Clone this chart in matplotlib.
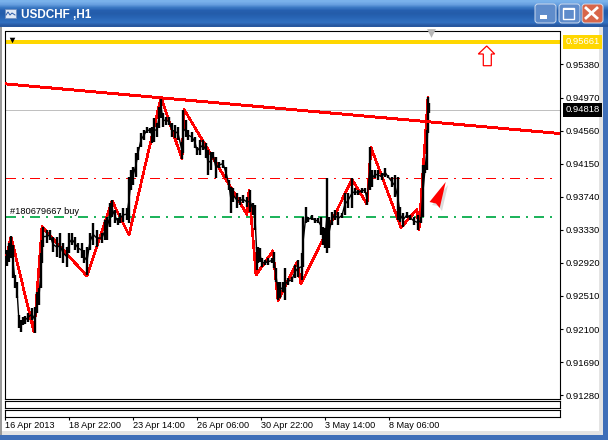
import numpy as np
import matplotlib
matplotlib.use('Agg')
import matplotlib.pyplot as plt
from matplotlib.patches import Polygon, Rectangle, FancyBboxPatch

W, H = 608, 440

# --- tick labels ---
time_labels = ['16 Apr 2013', '18 Apr 22:00', '23 Apr 14:00', '26 Apr 06:00',
               '30 Apr 22:00', '3 May 14:00', '8 May 06:00']
time_ticks = [0, 64, 128, 192, 256, 320, 384]
price_ticks = [0.95380, 0.94970, 0.94560, 0.94150, 0.93740, 0.93330,
               0.92920, 0.92510, 0.92100, 0.91690, 0.91280]

# --- price bars (bar index, high, low) ---
bars = [0, 2, 4, 6, 8, 10, 12, 14, 16, 18, 20, 23, 27, 30, 32, 34, 36, 37, 38, 42, 45, 48, 52,
        55, 58, 62, 64, 67, 70, 73, 77, 79, 82, 85, 88, 92, 97, 100, 102, 105, 107, 110, 113, 115,
        118, 122, 124, 126, 128, 131, 133, 136, 139, 142, 145, 147, 149, 152, 154, 156, 158, 161, 164,
        167, 170, 173, 177, 178, 181, 183, 187, 190, 192, 195, 198, 201, 203, 206, 208, 211, 214,
        218, 221, 224, 226, 228, 232, 235, 238, 242, 245, 248, 250, 252, 253, 255, 257, 260, 263,
        267, 269, 271, 273, 275, 278, 280, 283, 287, 290, 293, 297, 298, 301, 303, 307, 310, 313,
        316, 318, 320, 322, 324, 327, 330, 333, 337, 340, 343, 347, 350, 353, 357, 360, 362, 365,
        367, 370, 373, 377, 380, 383, 387, 390, 393, 395, 398, 402, 405, 409, 413, 416, 418, 420,
        422, 423, 424]
highs = [.9301, .9308, .9317, .9325, .9314, .9277, .9268, .9227, .9221, .9225, .9226, .9230, .9236,
         .9237, .9256, .9261, .9304, .9320, .9337, .9333, .9333, .9324, .9324, .9329, .9317, .9312,
         .9329, .9329, .9324, .9317, .9317, .9308, .9312, .9329, .9341, .9333, .9329, .9345, .9349,
         .9366, .9370, .9358, .9348, .9354, .9360, .9360, .9399, .9407, .9411, .9428, .9436, .9453,
         .9457, .9461, .9459, .9461, .9472, .9465, .9485, .9498, .9478, .9473, .9473, .9465, .9463,
         .9461, .9442, .9482, .9469, .9457, .9454, .9448, .9436, .9444, .9444, .9441, .9432, .9430,
         .9430, .9423, .9417, .9420, .9411, .9395, .9386, .9385, .9379, .9374, .9376, .9374, .9382,
         .9366, .9364, .9312, .9312, .9310, .9298, .9296, .9298, .9298, .9306, .9286, .9268, .9268,
         .9268, .9286, .9273, .9275, .9289, .9296, .9304, .9349, .9361, .9349, .9351, .9348, .9348,
         .9349, .9337, .9335, .9397, .9349, .9355, .9358, .9355, .9354, .9379, .9379, .9397, .9385,
         .9382, .9385, .9385, .9379, .9436, .9407, .9407, .9407, .9403, .9410, .9401, .9399, .9401,
         .9399, .9361, .9354, .9355, .9351, .9349, .9351, .9349, .9413, .9413, .9457, .9498, .9490]
lows = [.9288, .9288, .9293, .9298, .9273, .9261, .9249, .9211, .9206, .9215, .9216, .9219, .9221,
        .9205, .9230, .9240, .9261, .9292, .9312, .9317, .9320, .9306, .9299, .9298, .9292, .9287,
        .9304, .9314, .9308, .9304, .9298, .9292, .9277, .9308, .9314, .9312, .9317, .9320, .9320,
        .9337, .9349, .9341, .9339, .9341, .9343, .9345, .9341, .9382, .9389, .9399, .9420, .9436,
        .9444, .9453, .9453, .9441, .9442, .9448, .9459, .9472, .9461, .9463, .9463, .9448, .9447,
        .9444, .9421, .9428, .9448, .9444, .9442, .9435, .9426, .9426, .9432, .9422, .9401, .9407,
        .9422, .9397, .9410, .9410, .9397, .9382, .9354, .9368, .9360, .9364, .9366, .9361, .9355,
        .9351, .9333, .9283, .9292, .9293, .9287, .9289, .9289, .9292, .9286, .9268, .9246, .9249,
        .9256, .9246, .9265, .9268, .9273, .9275, .9271, .9287, .9341, .9343, .9345, .9341, .9341,
        .9327, .9314, .9310, .9304, .9310, .9339, .9345, .9339, .9348, .9351, .9360, .9360, .9376,
        .9376, .9379, .9379, .9364, .9382, .9386, .9397, .9395, .9395, .9399, .9397, .9386, .9374,
        .9345, .9343, .9337, .9348, .9345, .9339, .9333, .9341, .9349, .9403, .9407, .9453, .9478]

# --- red zigzag vertices (bar index, price) ---
zig_x = [0, 6, 29, 37, 82, 107, 124, 156, 177, 179, 242, 244, 251, 268, 273, 292, 296, 347, 362,
         366, 396, 412, 414, 423]
zig_y = [.9292, .93244, .92062, .93368, .92757, .9369, .93265, .94972, .94207, .94824, .93519,
         .93823, .92769, .9307, .92453, .9293, .92657, .93956, .93649, .94352, .9336, .93584,
         .93327, .94972]

# --- levels and trend line ---
tp_level = 0.95661
bid_level = 0.94818
sl_level = 0.93967
open_level = 0.93495
trend_x = [0, 554]
trend_y = [0.9514, 0.94525]

plt.rcParams['font.family'] = ['Liberation Sans', 'DejaVu Sans']
fig = plt.figure(figsize=(W / 100, H / 100), dpi=100, facecolor='white')


def px_axes(left, top, right, bottom, **kw):
    return fig.add_axes([left / W, 1 - bottom / H, (right - left) / W, (bottom - top) / H], **kw)


# window frame, drawn in screen pixels
bg = fig.add_axes([0, 0, 1, 1], zorder=0)
title_rgb = np.array([[122, 178, 235], [104, 160, 224], [60, 122, 196], [38, 96, 176], [36, 92, 170],
                      [38, 98, 178], [44, 106, 186], [50, 112, 192], [40, 88, 160]]) / 255
bg.imshow(title_rgb[:, None, :], extent=(0, W, 27, 0), aspect='auto', interpolation='bilinear')
bg.set_xlim(0, W)
bg.set_ylim(H, 0)
bg.axis('off')
bg.add_patch(Rectangle((0, 431), W, 4, color='#e4e4e4', lw=0))
bg.add_patch(Rectangle((599, 27), 4, 408, color='#e4e4e4', lw=0))
bg.add_patch(Rectangle((0, 435), W, 5, color='#3f6fb8', lw=0))
bg.add_patch(Rectangle((603, 27), 5, 408, color='#3f6fb8', lw=0))
bg.add_patch(Rectangle((0, 27), 2, 408, color='#9a9a9a', lw=0))
bg.text(21, 14.5, 'USDCHF ,H1', color='white', fontsize=8.5, fontweight='bold', va='center', ha='left')
# small window icon
bg.add_patch(Rectangle((5, 9), 11, 9, fc='#dfe8f5', ec='#6f8fc0', lw=0.6))
bg.plot([6, 8, 10, 12, 15], [15, 12, 15, 13, 15], color='#2a5aa8', lw=0.7)

for bx, col in [(535, '#5f8ccb'), (559, '#5f8ccb'), (582, '#d8664a')]:
    bg.add_patch(FancyBboxPatch((bx, 4), 21, 19, boxstyle='round,pad=0,rounding_size=3',
                                fc=col, ec='#cfdcef', lw=0.7))
bg.add_patch(Rectangle((540, 15), 7, 4, color='white', lw=0))
bg.add_patch(Rectangle((563, 8), 11, 11, fc='none', ec='white', lw=1))
bg.add_patch(Rectangle((563, 8), 11, 2, color='white', lw=0))
bg.plot([586, 597], [8, 18], color='white', lw=2)
bg.plot([586, 597], [18, 8], color='white', lw=2)

# white chart area with sub windows
ax = px_axes(4.5, 31.5, 559.5, 398.5, zorder=2, facecolor='white')
ax.set_xlim(-0.5, 554.5)
ax.set_ylim(0.91239, 0.95789)
for s in ax.spines.values():
    s.set_linewidth(0.8)
    s.set_color('black')
ax.yaxis.tick_right()
ax.set_yticks(price_ticks)
ax.set_yticklabels([f'{p:.5f}' for p in price_ticks])
ax.tick_params(axis='y', length=2, width=0.8, pad=2.2, labelsize=6.8, direction='out')
ax.set_xticks([])

for top, bottom in [(400.5, 407.5), (409.5, 416.5)]:
    sub = px_axes(4.5, top, 559.5, bottom, zorder=2, facecolor='white')
    sub.set_xticks([])
    sub.set_yticks([])
    for s in sub.spines.values():
        s.set_linewidth(0.8)
sub.set_xlim(-0.5, 554.5)
sub.set_xticks(time_ticks)
sub.set_xticklabels(time_labels, ha='left')
sub.tick_params(axis='x', length=2, width=0.8, pad=1.5, labelsize=6.6)

# levels
ax.axhline(bid_level, color='#c0c0c0', lw=0.7, zorder=1, antialiased=False)
dash_dot = (6.8, 4.5, 1.4, 4.5)
ax.plot([1, 547], [sl_level, sl_level], color='#ff0000', lw=1, dashes=dash_dot, zorder=1,
        antialiased=False)
ax.plot([1, 547], [open_level, open_level], color='#1fb45c', lw=1.1, dashes=(6.2, 4.1, 1.3, 4.1), zorder=1,
        antialiased=False)
ax.axhline(tp_level, color='#ffd700', lw=1.5, zorder=1, antialiased=False)

# price
ax.plot(zig_x, zig_y, color='#ff0000', lw=1.2, zorder=3, antialiased=False)
mids = (np.array(highs) + np.array(lows)) / 2
ax.plot(bars, mids, color='black', lw=1.0, zorder=4)
ax.vlines(bars, lows, highs, color='black', lw=1.7, capstyle='butt', zorder=4)
ax.plot(trend_x, trend_y, color='#ff0000', lw=1.4, zorder=5, antialiased=False)

ax.text(5, open_level + 0.00008, '#180679667 buy', fontsize=6.7, va='bottom', ha='left', color='black')

# markers
ax.scatter([6.7], [0.9568], marker='v', s=16, color='black', lw=0, zorder=6, clip_on=False)
ax.scatter([425.5], [0.95767], marker='v', s=40, color='#b8b8b8', lw=0, zorder=6, clip_on=False)

fig.canvas.draw()
to_data = ax.transData.inverted()


def arrow_pts(points):
    # screen pixels to data coordinates for the hand drawn arrows
    return [to_data.transform((x, H - y)) for x, y in points]


ax.add_patch(Polygon(arrow_pts([(486.7, 46), (494.7, 54), (491.3, 54), (491.3, 65.7), (483.3, 65.7),
                                (483.3, 54), (478.3, 54)]),
                     closed=True, fc='white', ec='#ff0000', lw=0.9, zorder=6))
ax.add_patch(Polygon(arrow_pts([(448, 185), (442, 211), (438.5, 206), (432, 205)]),
                     closed=True, fc='#dcdcdc', ec='none', zorder=5))
ax.add_patch(Polygon(arrow_pts([(445.7, 182), (439.7, 208), (436, 203.5), (429.5, 202)]),
                     closed=True, fc='#ff0000', ec='none', zorder=6))

# right side price tags
for level, col, tcol in [(tp_level, '#ffd700', 'white'), (bid_level, 'black', 'white')]:
    ax.annotate(f'{level:.5f}', xy=(1, level), xycoords=('axes fraction', 'data'),
                xytext=(6, 0), textcoords='offset pixels', va='center', ha='left',
                fontsize=6.8, color=tcol, zorder=8, annotation_clip=False,
                bbox=dict(boxstyle='square,pad=0.28', fc=col, ec='none'))

fig.savefig('out.png', dpi=100, facecolor=fig.get_facecolor())
